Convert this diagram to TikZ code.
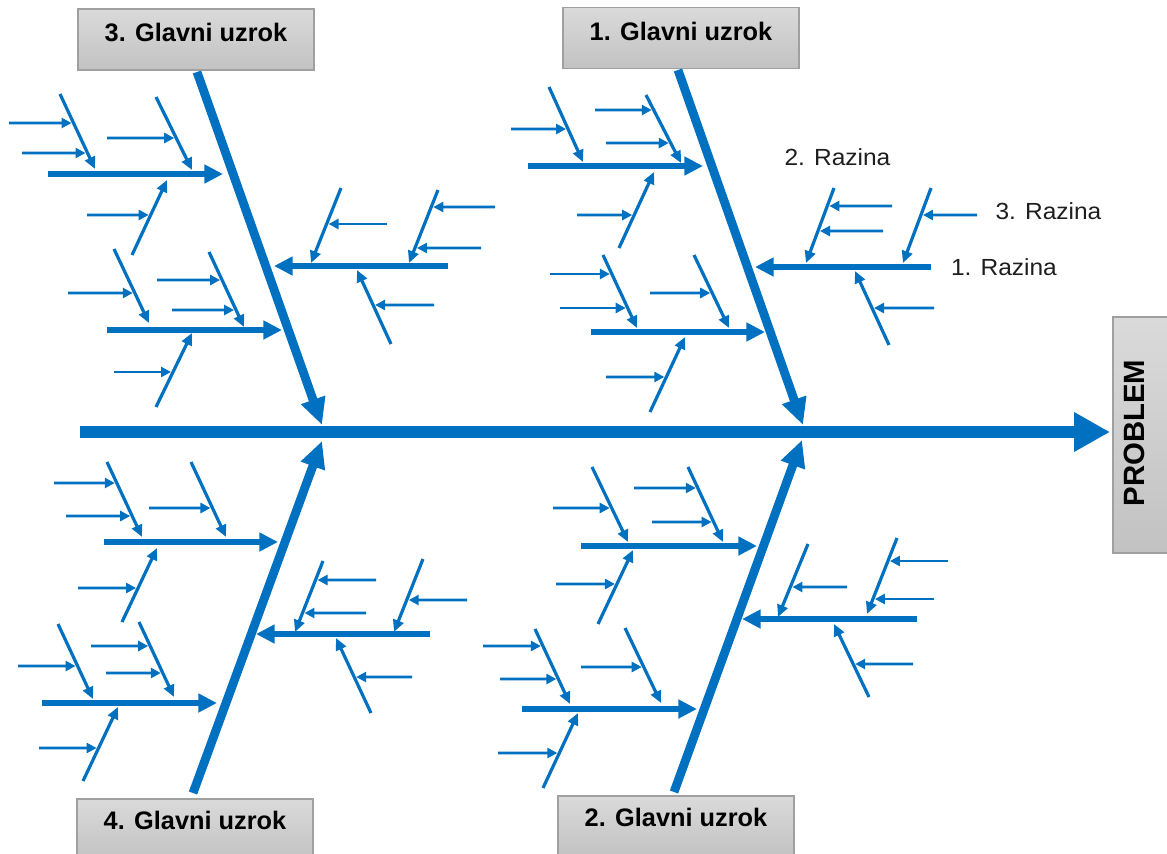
\documentclass[tikz,border=0pt]{standalone}
\usepackage{fontspec}
\setmainfont{Liberation Sans}
\newfontfamily\razfont[FakeStretch=1.05]{Liberation Sans}
\usetikzlibrary{arrows.meta,calc}
\definecolor{fishblue}{RGB}{0,112,192}
\definecolor{boxtop}{RGB}{218,218,218}
\definecolor{boxbot}{RGB}{194,194,194}
\definecolor{boxline}{RGB}{160,160,160}
\definecolor{labeltext}{RGB}{30,30,30}

% level-2 horizontal arrow: name, x start, x tip, y
\newcommand{\Ltwo}[4]{\coordinate (#1s) at (#2,#4); \coordinate (#1e) at (#3,#4); \draw[lvltwo] (#1s) -- (#1e);}
% level-3 slanted arrow: name, start, tip
\newcommand{\Lthree}[5]{\coordinate (#1a) at (#2,#3); \coordinate (#1b) at (#4,#5); \draw[lvlthree] (#1a) -- (#1b);}
% level-4 small arrow onto a level-3 line: line name, x start, y
\newcommand{\Lfour}[3]{\coordinate (#1f#3) at (#2,#3); \draw[lvlfour] (#1f#3) -- (intersection cs: first line={(#1a)--(#1b)}, second line={(0,#3)--(1000,#3)});}

\begin{document}
\begin{tikzpicture}[x=0.75pt,y=-0.75pt,
  spine/.style={draw=fishblue, line width=9pt, -{Triangle[length=27pt,width=28pt]}},
  bone/.style={draw=fishblue, line width=6.6pt, -{Triangle[length=20pt,width=18pt]}},
  lvltwo/.style={draw=fishblue, line width=4pt, -{Triangle[length=14pt,width=13.5pt]}},
  lvlthree/.style={draw=fishblue, line width=2.4pt, -{Triangle[length=9pt,width=8pt]}},
  lvlfour/.style={draw=fishblue, line width=2pt, shorten >=1.5pt, -{Triangle[length=7.5pt,width=7.5pt]}},
  causebox/.style={draw=boxline, line width=0.8pt, top color=boxtop, bottom color=boxbot,
     minimum width=177pt, minimum height=45.75pt, inner sep=0pt},
  boxtext/.style={font=\bfseries\fontsize{19}{22}\selectfont, text=black, inner sep=0pt},
  razina/.style={font=\razfont\fontsize{17.5}{20}\selectfont, text=labeltext, inner sep=0pt}]
\useasboundingbox (0,0) rectangle (1167,853);

% ---------- boxes ----------
\node[causebox] (box3) at (196,39.5) {};
\node[boxtext] (box3t) at (196,32) {3. Glavni uzrok};
\node[causebox] (box1) at (681,38) {};
\node[boxtext] (box1t) at (681,31) {1. Glavni uzrok};
\node[causebox] (box4) at (195,829.5) {};
\node[boxtext] (box4t) at (195,820) {4. Glavni uzrok};
\node[causebox] (box2) at (676,826.5) {};
\node[boxtext] (box2t) at (676,817) {2. Glavni uzrok};
\node[causebox, rotate=90] (prob) at (1143.5,435) {};
\node[boxtext, font=\bfseries\fontsize{22}{25}\selectfont, rotate=90] (probt) at (1134,433) {PROBLEM};

% ---------- spine and main bones ----------
\coordinate (sps) at (80,432);
\coordinate (spe) at (1110,432);
\draw[spine] (sps) -- (spe);
\coordinate (b3s) at (197,72);  \coordinate (b3e) at (322,425);
\coordinate (b1s) at (678,70);  \coordinate (b1e) at (803,425);
\coordinate (b4s) at (193,793); \coordinate (b4e) at (322,441);
\coordinate (b2s) at (674,792); \coordinate (b2e) at (802,440);
\draw[bone] (b3s) -- (b3e);
\draw[bone] (b1s) -- (b1e);
\draw[bone] (b4s) -- (b4e);
\draw[bone] (b2s) -- (b2e);

% ---------- quadrant A (3. Glavni uzrok) ----------
\Ltwo{A1}{48}{223}{174}
\Ltwo{A2}{107}{282}{330}
\Ltwo{A3}{448}{274}{266}
\Lthree{A1a}{60}{94}{95}{169}    \Lfour{A1a}{9}{123} \Lfour{A1a}{22}{153}
\Lthree{A1b}{156}{97}{192}{170}  \Lfour{A1b}{107}{138}
\Lthree{A1c}{132}{255}{167}{180} \Lfour{A1c}{87}{215}
\Lthree{A2a}{114}{249}{149}{323} \Lfour{A2a}{68}{293}
\Lthree{A2b}{209}{252}{244}{327} \Lfour{A2b}{157}{280} \Lfour{A2b}{172}{310}
\Lthree{A2c}{156}{407}{192}{333} \Lfour{A2c}{114}{372}
\Lthree{A3a}{341}{188}{311}{263} \Lfour{A3a}{387}{224}
\Lthree{A3b}{438}{190}{409}{263} \Lfour{A3b}{495}{207} \Lfour{A3b}{481}{248}
\Lthree{A3c}{391}{344}{357}{270} \Lfour{A3c}{434}{305}

% ---------- quadrant B (1. Glavni uzrok) ----------
\Ltwo{B1}{528}{703}{166}
\Ltwo{B2}{591}{765}{332}
\Ltwo{B3}{931}{755}{267}
\Lthree{B1a}{549}{87}{583}{162}  \Lfour{B1a}{511}{129}
\Lthree{B1b}{646}{95}{681}{163}  \Lfour{B1b}{595}{110} \Lfour{B1b}{606}{143}
\Lthree{B1c}{619}{248}{654}{172} \Lfour{B1c}{577}{215}
\Lthree{B2a}{603}{255}{637}{328} \Lfour{B2a}{550}{274} \Lfour{B2a}{560}{308}
\Lthree{B2b}{694}{255}{729}{328} \Lfour{B2b}{650}{293}
\Lthree{B2c}{650}{412}{685}{337} \Lfour{B2c}{606}{377}
\Lthree{B3a}{834}{188}{806}{263} \Lfour{B3a}{892}{206} \Lfour{B3a}{883}{231}
\Lthree{B3b}{931}{188}{903}{263} \Lfour{B3b}{977}{215}
\Lthree{B3c}{889}{345}{855}{271} \Lfour{B3c}{934}{308}

% ---------- quadrant C (4. Glavni uzrok) ----------
\Ltwo{C1}{104}{278}{542}
\Ltwo{C2}{42}{217}{703}
\Ltwo{C3}{430}{256}{634}
\Lthree{C1a}{107}{462}{142}{537} \Lfour{C1a}{54}{483} \Lfour{C1a}{66}{516}
\Lthree{C1b}{191}{462}{226}{537} \Lfour{C1b}{149}{508}
\Lthree{C1c}{122}{622}{157}{548} \Lfour{C1c}{78}{588}
\Lthree{C2a}{58}{624}{93}{699}   \Lfour{C2a}{18}{666}
\Lthree{C2b}{139}{622}{174}{697} \Lfour{C2b}{91}{646} \Lfour{C2b}{106}{673}
\Lthree{C2c}{83}{781}{118}{707}  \Lfour{C2c}{39}{748}
\Lthree{C3a}{323}{561}{295}{632} \Lfour{C3a}{376}{580} \Lfour{C3a}{366}{613}
\Lthree{C3b}{423}{559}{394}{632} \Lfour{C3b}{467}{600}
\Lthree{C3c}{371}{713}{336}{638} \Lfour{C3c}{412}{677}

% ---------- quadrant D (2. Glavni uzrok) ----------
\Ltwo{D1}{581}{757}{546}
\Ltwo{D2}{522}{697}{709}
\Ltwo{D3}{917}{742}{619}
\Lthree{D1a}{592}{467}{628}{542} \Lfour{D1a}{553}{508}
\Lthree{D1b}{688}{467}{723}{542} \Lfour{D1b}{634}{488} \Lfour{D1b}{652}{522}
\Lthree{D1c}{598}{624}{633}{550} \Lfour{D1c}{556}{584}
\Lthree{D2a}{535}{629}{570}{704} \Lfour{D2a}{483}{646} \Lfour{D2a}{500}{679}
\Lthree{D2b}{625}{628}{661}{703} \Lfour{D2b}{581}{667}
\Lthree{D2c}{543}{788}{578}{713} \Lfour{D2c}{498}{753}
\Lthree{D3a}{808}{544}{778}{617} \Lfour{D3a}{847}{587}
\Lthree{D3b}{897}{538}{867}{614} \Lfour{D3b}{948}{561} \Lfour{D3b}{934}{599}
\Lthree{D3c}{869}{697}{834}{624} \Lfour{D3c}{913}{664}

% ---------- level labels ----------
\node[razina] (raz2) at (837.5,157) {2. Razina};
\node[razina] (raz3) at (1048.5,211) {3. Razina};
\node[razina] (raz1) at (1004,267) {1. Razina};
\end{tikzpicture}
\end{document}
